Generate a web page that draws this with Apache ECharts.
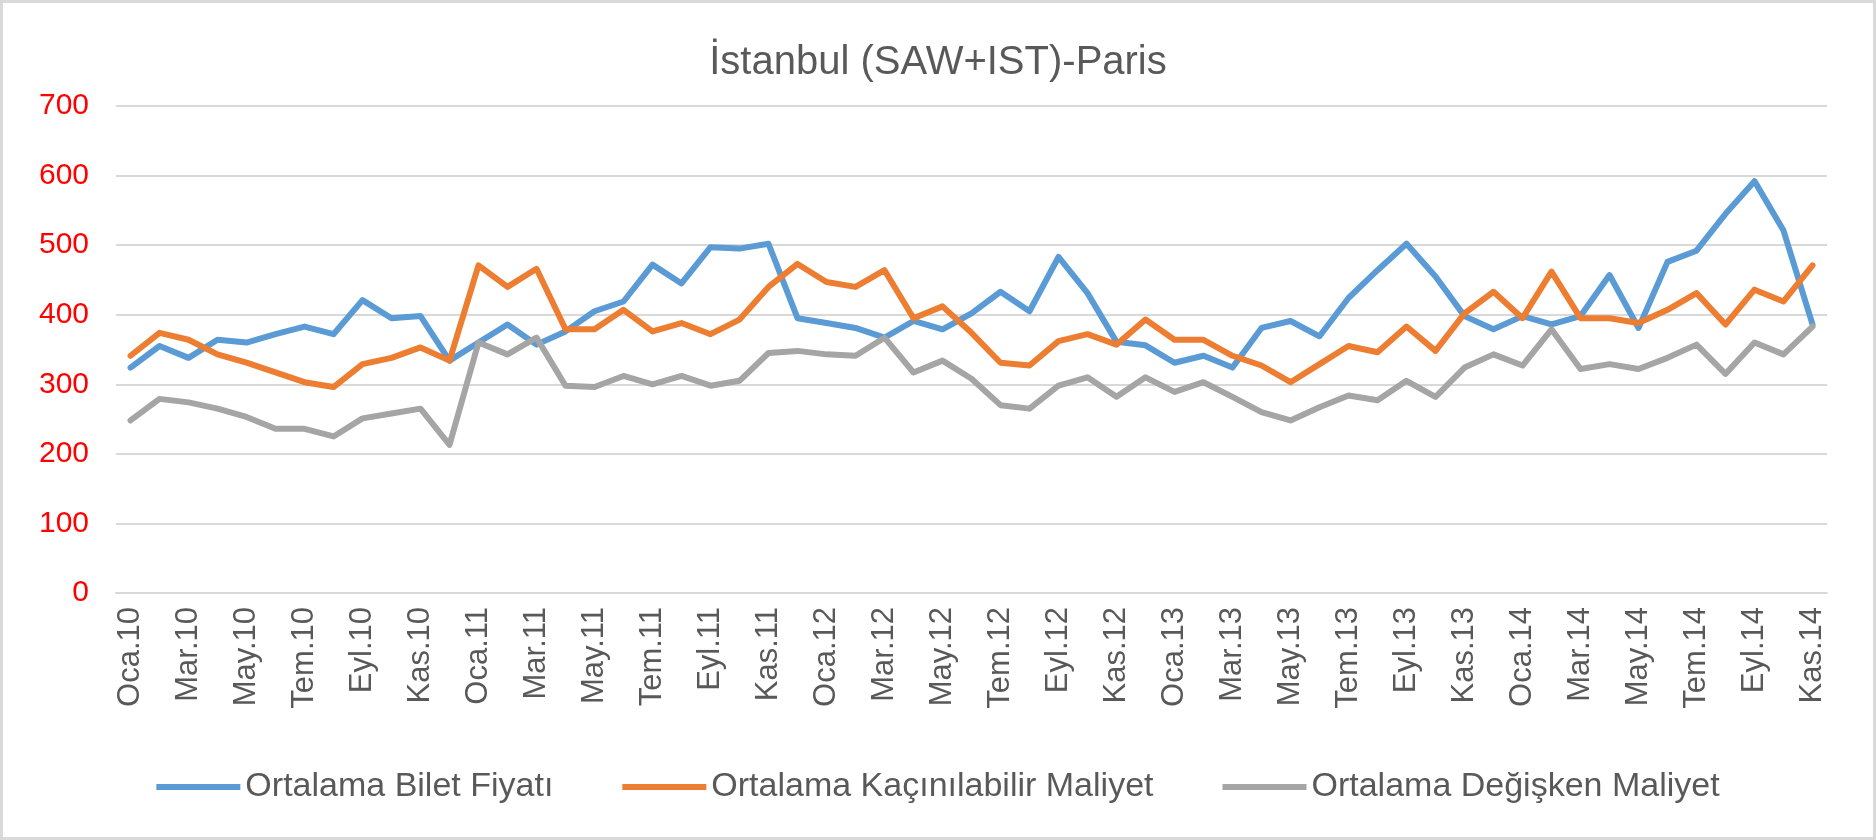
<!DOCTYPE html>
<html>
<head>
<meta charset="utf-8">
<script src="https://cdn.jsdelivr.net/npm/echarts@6/dist/echarts.min.js"></script>
<style>
html,body{margin:0;padding:0;background:#fff;}
#chart{width:1876px;height:840px;box-sizing:border-box;border:3px solid #d9d9d9;}
</style>
</head>
<body>
<div id="chart"></div>
<script>
const months = ['Oca','Şub','Mar','Nis','May','Haz','Tem','Ağu','Eyl','Eki','Kas','Ara'];
const categories = [];
for (let y = 10; y <= 14; y++) {
  for (let m = 0; m < 12; m++) {
    if (y === 14 && m > 10) break;
    categories.push(months[m] + '.' + y);
  }
}
const biletFiyati = [324,355,338,364,360,372,383,372,421,395,398,334,
  360,386,357,376,405,419,472,445,497,495,502,395,
  388,381,367,391,379,402,433,405,483,431,361,356,
  331,341,324,381,391,369,424,464,502,455,398,379,
  398,386,398,457,381,476,492,545,592,521,386];
const kacinilabilir = [341,374,364,343,331,317,303,296,329,338,353,334,
  471,440,466,379,379,407,376,388,372,393,440,473,
  447,440,464,395,412,374,331,327,362,372,357,393,
  364,364,341,327,303,329,355,346,383,348,402,433,
  395,462,395,395,388,407,431,386,436,419,471];
const degisken = [248,279,274,265,253,236,236,225,251,258,265,213,
  360,343,367,298,296,312,300,312,298,305,345,348,
  343,341,367,317,334,308,270,265,298,310,282,310,
  289,303,282,260,248,267,284,277,305,282,324,343,
  327,379,322,329,322,338,357,315,360,343,383];
const seriesNames = ['Ortalama Bilet Fiyatı','Ortalama Kaçınılabilir Maliyet','Ortalama Değişken Maliyet'];
const colors = ['#5B9BD5','#ED7D31','#A5A5A5'];

const chart = echarts.init(document.getElementById('chart'));
const mk = (name, data, color) => ({
  name, type: 'line', data, symbol: 'none', smooth: false,
  lineStyle: { width: 6, color, join: 'round', cap: 'round' },
  itemStyle: { color }
});
chart.setOption({
  animation: false,
  color: colors,
  title: {
    text: 'İstanbul (SAW+IST)-Paris', left: 'center', top: 35,
    textStyle: { fontFamily: 'Liberation Sans', fontSize: 40, fontWeight: 'normal', color: '#595959' }
  },
  legend: {
    data: seriesNames, left: 'center', top: 762, icon: 'rect',
    itemWidth: 84, itemHeight: 6, itemGap: 69,
    textStyle: { fontFamily: 'Liberation Sans', fontSize: 34, color: '#595959' }
  },
  grid: { left: 113, right: 46, top: 103, bottom: 244, containLabel: false },
  xAxis: {
    type: 'category', data: categories, boundaryGap: true,
    axisLine: { lineStyle: { color: '#d9d9d9', width: 2 } },
    axisTick: { show: false },
    axisLabel: { interval: 1, rotate: 90, margin: 14, fontFamily: 'Liberation Sans', fontSize: 31, color: '#595959' }
  },
  yAxis: {
    type: 'value', min: 0, max: 700, interval: 100,
    axisLine: { show: false }, axisTick: { show: false },
    splitLine: { lineStyle: { color: '#d9d9d9', width: 2 } },
    axisLabel: { margin: 27, fontFamily: 'Liberation Sans', fontSize: 30, color: '#FF0000' }
  },
  series: [
    mk(seriesNames[0], biletFiyati, colors[0]),
    mk(seriesNames[1], kacinilabilir, colors[1]),
    mk(seriesNames[2], degisken, colors[2])
  ]
});
</script>
</body>
</html>
